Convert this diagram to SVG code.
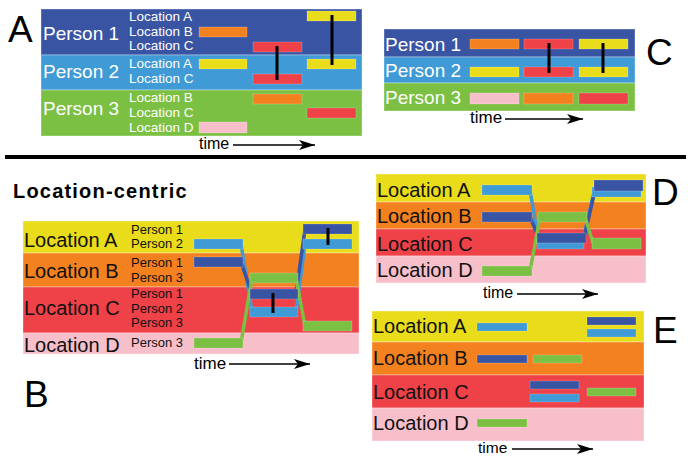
<svg xmlns="http://www.w3.org/2000/svg" width="688" height="457" viewBox="0 0 688 457">
<defs>
<marker id="arr" markerUnits="userSpaceOnUse" markerWidth="18" markerHeight="12" refX="16" refY="5" orient="auto">
<path d="M0,0 L16,5 L0,10 L4,5 Z" fill="#000"/>
</marker>
<style>
text{font-family:"Liberation Sans",Arial,sans-serif}
.big{font-size:37px;fill:#000}
.pw{font-size:19px;fill:#fff}
.lw{font-size:13.5px;fill:#fff}
.lb{font-size:20px;fill:#111}
.pb{font-size:13px;fill:#111}
.time{font-size:16px;fill:#000}
.axis{stroke:#000;stroke-width:1.6;fill:none;marker-end:url(#arr)}
.band{stroke:#fff;stroke-opacity:.35;stroke-width:1}
.bar{stroke:#fff;stroke-opacity:.25;stroke-width:.8}
.dk{fill:#3a54a4}.lt{fill:#3f9ad6}.gr{fill:#7bc043}.ye{fill:#e9dc1a}.or{fill:#f48120}.rd{fill:#ee4148}.pk{fill:#f7bfca}
.sync{stroke:#000;stroke-width:3}
.dg{stroke-width:3.5;fill:none}
</style>
</defs>
<rect width="688" height="457" fill="#fff"/>

<!-- Panel A -->
<g id="panelA">
<text class="big" x="8" y="42">A</text>
<g id="A-person1"><rect class="band dk" x="41" y="9" width="321" height="46"/><text class="pw" x="43" y="40">Person 1</text>
<text class="lw" x="129" y="21">Location A</text><text class="lw" x="129" y="36">Location B</text><text class="lw" x="129" y="50">Location C</text></g>
<g id="A-person2"><rect class="band lt" x="41" y="55" width="321" height="35"/><text class="pw" x="43" y="78">Person 2</text>
<text class="lw" x="129" y="68">Location A</text><text class="lw" x="129" y="83">Location C</text></g>
<g id="A-person3"><rect class="band gr" x="41" y="90" width="321" height="46"/><text class="pw" x="43" y="115">Person 3</text>
<text class="lw" x="129" y="102">Location B</text><text class="lw" x="129" y="117">Location C</text><text class="lw" x="129" y="132">Location D</text></g>
<g id="A-bars">
<rect class="bar ye" x="307" y="11" width="49" height="10"/>
<rect class="bar or" x="199" y="27" width="48" height="10"/>
<rect class="bar rd" x="253" y="42" width="49" height="10"/>
<rect class="bar ye" x="199" y="59" width="48" height="10"/>
<rect class="bar ye" x="307" y="59" width="49" height="10"/>
<rect class="bar rd" x="253" y="74" width="49" height="10"/>
<rect class="bar or" x="253" y="94" width="49" height="10"/>
<rect class="bar rd" x="307" y="108" width="49" height="10"/>
<rect class="bar pk" x="199" y="122" width="48" height="11"/>
<line class="sync" x1="277" y1="46" x2="277" y2="80"/>
<line class="sync" x1="332" y1="15" x2="332" y2="65"/>
</g>
<text class="time" x="199" y="149">time</text>
<line class="axis" x1="233" y1="145" x2="315" y2="145"/>
</g>

<line id="divider" x1="5" y1="157" x2="686" y2="157" stroke="#000" stroke-width="4"/>

<!-- Panel C -->
<g id="panelC">
<text class="big" x="646" y="65">C</text>
<g id="C-person1"><rect class="band dk" x="384" y="29" width="251" height="28"/><text class="pw" x="385" y="51">Person 1</text></g>
<g id="C-person2"><rect class="band lt" x="384" y="57" width="251" height="26"/><text class="pw" x="385" y="77">Person 2</text></g>
<g id="C-person3"><rect class="band gr" x="384" y="83" width="251" height="28"/><text class="pw" x="385" y="104">Person 3</text></g>
<g id="C-bars">
<rect class="bar or" x="470" y="39" width="49" height="10"/>
<rect class="bar rd" x="524" y="39" width="49" height="10"/>
<rect class="bar ye" x="579" y="39" width="49" height="10"/>
<rect class="bar ye" x="470" y="67" width="49" height="10"/>
<rect class="bar rd" x="524" y="67" width="49" height="10"/>
<rect class="bar ye" x="579" y="67" width="49" height="10"/>
<rect class="bar pk" x="470" y="93" width="49" height="11"/>
<rect class="bar or" x="524" y="93" width="49" height="11"/>
<rect class="bar rd" x="579" y="93" width="49" height="11"/>
<line class="sync" x1="549" y1="43" x2="549" y2="73"/>
<line class="sync" x1="603" y1="43" x2="603" y2="73"/>
</g>
<text class="time" x="470" y="123" style="font-size:17px">time</text>
<line class="axis" x1="505" y1="119" x2="583" y2="119"/>
</g>

<!-- Panel B -->
<g id="panelB">
<text x="13" y="198" style="font-size:20px;font-weight:bold;letter-spacing:1.2px;fill:#000">Location-centric</text>
<text class="big" x="24" y="407">B</text>
<g id="B-locA"><rect class="band ye" x="23" y="221" width="336" height="32"/><text class="lb" x="24" y="247">Location A</text>
<text class="pb" x="131" y="234">Person 1</text><text class="pb" x="131" y="248">Person 2</text></g>
<g id="B-locB"><rect class="band or" x="23" y="253" width="336" height="34"/><text class="lb" x="24" y="278">Location B</text>
<text class="pb" x="131" y="267">Person 1</text><text class="pb" x="131" y="282">Person 3</text></g>
<g id="B-locC"><rect class="band rd" x="23" y="287" width="336" height="46"/><text class="lb" x="24" y="315">Location C</text>
<text class="pb" x="131" y="298">Person 1</text><text class="pb" x="131" y="313">Person 2</text><text class="pb" x="131" y="327">Person 3</text></g>
<g id="B-locD"><rect class="band pk" x="23" y="333" width="336" height="21"/><text class="lb" x="24" y="352">Location D</text>
<text class="pb" x="131" y="347">Person 3</text></g>
<g id="B-tracks">
<line class="dg" stroke="#3f9ad6" x1="241" y1="244" x2="252" y2="312"/>
<line class="dg" stroke="#3f9ad6" x1="296" y1="312" x2="305" y2="244"/>
<line class="dg" stroke="#3a54a4" x1="241" y1="262" x2="252" y2="294"/>
<line class="dg" stroke="#3a54a4" x1="296" y1="294" x2="305" y2="229"/>
<line class="dg" stroke="#7bc043" x1="241" y1="343" x2="252" y2="278"/>
<line class="dg" stroke="#7bc043" x1="296" y1="278" x2="305" y2="326"/>
<rect class="bar lt" x="194" y="239" width="49" height="10"/>
<rect class="bar lt" x="250" y="307" width="48" height="10"/>
<rect class="bar lt" x="303" y="239" width="49" height="10"/>
<rect class="bar dk" x="194" y="257" width="49" height="10"/>
<rect class="bar dk" x="250" y="289" width="48" height="10"/>
<rect class="bar dk" x="303" y="224" width="49" height="10"/>
<rect class="bar gr" x="194" y="338" width="49" height="10"/>
<rect class="bar gr" x="250" y="273" width="48" height="10"/>
<rect class="bar gr" x="303" y="321" width="49" height="10"/>
<line class="sync" x1="273" y1="293" x2="273" y2="313"/>
<line class="sync" x1="328" y1="228" x2="328" y2="245"/>
</g>
<text class="time" x="194" y="369" style="font-size:17px">time</text>
<line class="axis" x1="229" y1="364" x2="310" y2="364"/>
</g>

<!-- Panel D -->
<g id="panelD">
<text class="big" x="652" y="205">D</text>
<g id="D-locA"><rect class="band ye" x="376" y="174" width="270" height="28"/><text class="lb" x="377" y="197">Location A</text></g>
<g id="D-locB"><rect class="band or" x="376" y="202" width="270" height="27"/><text class="lb" x="377" y="223">Location B</text></g>
<g id="D-locC"><rect class="band rd" x="376" y="229" width="270" height="27"/><text class="lb" x="377" y="251">Location C</text></g>
<g id="D-locD"><rect class="band pk" x="376" y="256" width="270" height="27"/><text class="lb" x="377" y="277">Location D</text></g>
<g id="D-tracks">
<line class="dg" stroke="#3f9ad6" x1="530" y1="190" x2="539" y2="244"/>
<line class="dg" stroke="#3a54a4" x1="530" y1="217" x2="539" y2="238"/>
<line class="dg" stroke="#7bc043" x1="530" y1="271" x2="540" y2="217"/>
<line class="dg" stroke="#3f9ad6" x1="582" y1="244" x2="594" y2="192"/>
<line class="dg" stroke="#3a54a4" x1="584" y1="238" x2="596" y2="186"/>
<line class="dg" stroke="#7bc043" x1="585" y1="217" x2="593" y2="243"/>
<rect class="bar lt" x="482" y="185" width="50" height="10"/>
<rect class="bar dk" x="482" y="212" width="50" height="10"/>
<rect class="bar gr" x="482" y="266" width="50" height="10"/>
<rect class="bar lt" x="537" y="239" width="47" height="10"/>
<rect class="bar dk" x="537" y="233" width="49" height="10"/>
<rect class="bar gr" x="538" y="212" width="49" height="10"/>
<rect class="bar lt" x="592" y="187" width="49" height="10"/>
<rect class="bar dk" x="594" y="180" width="49" height="11"/>
<rect class="bar gr" x="592" y="238" width="49" height="11"/>
</g>
<text class="time" x="483" y="298">time</text>
<line class="axis" x1="517" y1="294" x2="598" y2="294"/>
</g>

<!-- Panel E -->
<g id="panelE">
<text class="big" x="653" y="343">E</text>
<g id="E-locA"><rect class="band ye" x="372" y="311" width="272" height="31"/><text class="lb" x="373" y="333">Location A</text></g>
<g id="E-locB"><rect class="band or" x="372" y="342" width="272" height="33"/><text class="lb" x="373" y="365">Location B</text></g>
<g id="E-locC"><rect class="band rd" x="372" y="375" width="272" height="33"/><text class="lb" x="373" y="399">Location C</text></g>
<g id="E-locD"><rect class="band pk" x="372" y="408" width="272" height="33"/><text class="lb" x="373" y="430">Location D</text></g>
<g id="E-bars">
<rect class="bar lt" x="477" y="323" width="50" height="8"/>
<rect class="bar dk" x="587" y="317" width="49" height="8"/>
<rect class="bar lt" x="587" y="329" width="49" height="8"/>
<rect class="bar dk" x="477" y="355" width="50" height="8"/>
<rect class="bar gr" x="533" y="355" width="49" height="8"/>
<rect class="bar dk" x="530" y="381" width="49" height="8"/>
<rect class="bar lt" x="530" y="394" width="49" height="8"/>
<rect class="bar gr" x="587" y="388" width="49" height="8"/>
<rect class="bar gr" x="477" y="419" width="50" height="8"/>
</g>
<text class="time" x="478" y="453" style="font-size:15.5px">time</text>
<line class="axis" x1="512" y1="449" x2="593" y2="449"/>
</g>
</svg>
